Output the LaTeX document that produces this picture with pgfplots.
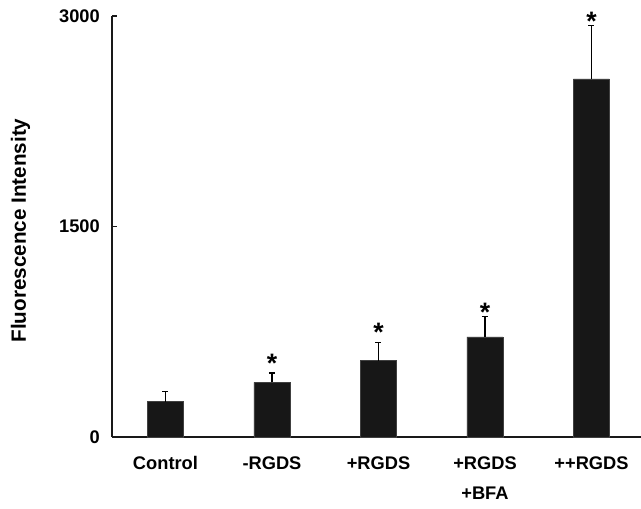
\documentclass[border=0pt]{standalone}
\usepackage{pgfplots}
\pgfplotsset{compat=1.18}
\usepackage{fontspec}
\setmainfont{Liberation Sans}
\definecolor{barfill}{HTML}{171717}
\pgfplotstableread{
x y e
0 252 73
1 389 67
2 544 128
3 713 149
4 2552 377
}\bars
\pgfplotstableread{
x y
1 462
2 683
3 825
4 2899
}\stars
\begin{document}
\begin{tikzpicture}
\useasboundingbox (0,0) rectangle (480.75pt,381pt);
\begin{axis}[
  at={(84pt,53.25pt)}, anchor=south west,
  scale only axis, width=396.75pt, height=315.75pt,
  xmin=-0.502, xmax=4.465, ymin=0, ymax=3000,
  axis x line*=bottom, axis y line*=left,
  axis line style={line width=1pt, black!90},
  clip=false,
  xtick={0,1,2,3,4},
  xticklabels={Control,-RGDS,+RGDS,+RGDS\\[6.1pt]+BFA,++RGDS},
  x tick style={draw=none},
  xticklabel style={font=\fontsize{13.7}{16.4}\selectfont\bfseries, align=center, anchor=north, inner sep=0pt, yshift=-14.25pt},
  ytick={0,1500,3000},
  ytick align=inside,
  y tick style={line width=1pt, black!90},
  major tick length=4pt,
  yticklabel style={font=\fontsize{13.7}{16}\selectfont\bfseries, anchor=east, inner sep=0pt, xshift=-9pt},
  /pgf/number format/assume math mode=true,
  /pgf/number format/1000 sep={},
  scaled y ticks=false,
  ylabel={Fluorescence Intensity},
  ylabel style={font=\fontsize{15.5}{18}\selectfont\bfseries, at={(axis description cs:-0.1727,0.4905)}, anchor=center},
]
\addplot[ybar, bar width=27pt, fill=barfill, draw=black!75, line width=0.5pt,
  error bars/.cd, y dir=plus, y explicit,
  error bar style={line width=0.8pt, black},
  error mark options={rotate=90, mark size=2.25pt, line width=0.8pt, black}]
  table[x=x, y=y, y error=e] {\bars};
\addplot[draw=none, mark=none, nodes near coords={*},
  every node near coord/.append style={anchor=base, inner sep=0pt, font=\fontsize{20}{20}\selectfont\bfseries, black}]
  table[x=x, y=y] {\stars};
\end{axis}
\end{tikzpicture}
\end{document}
